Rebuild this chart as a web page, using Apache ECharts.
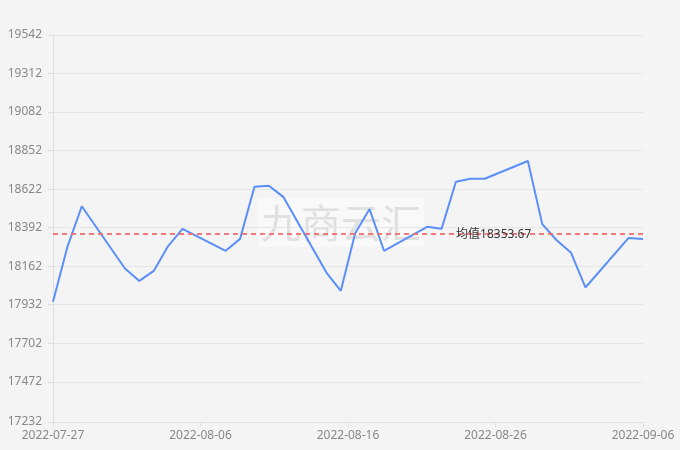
<!DOCTYPE html>
<html><head><meta charset="utf-8">
<script src="https://cdn.jsdelivr.net/npm/echarts@6/dist/echarts.min.js"></script>
<style>html,body{margin:0;padding:0;background:#f4f4f4}#c{width:680px;height:450px}</style>
</head><body><div id="c"></div>
<script>
const dates = ['2022-07-27','2022-07-28','2022-07-29','2022-08-01','2022-08-02','2022-08-03','2022-08-04','2022-08-05',
  '2022-08-08','2022-08-09','2022-08-10','2022-08-11','2022-08-12','2022-08-15','2022-08-16','2022-08-17','2022-08-18','2022-08-19',
  '2022-08-22','2022-08-23','2022-08-24','2022-08-25','2022-08-26','2022-08-29','2022-08-30','2022-08-31','2022-09-01','2022-09-02',
  '2022-09-05','2022-09-06'];
const prices = [17950,18277,18520,18148,18074,18134,18282,18385,
  18254,18325,18636,18642,18576,18124,18015,18359,18503,18254,
  18397,18385,18666,18684,18684,18790,18413,18317,18242,18035,
  18331,18325];
const yTickValues = [17232,17472,17702,17932,18162,18392,18622,18852,19082,19312,19542];
const xStart = '2022-07-27';
const xEnd = '2022-09-06';
const xSplits = 4;
const averageValue = 18353.67;
const averageName = '均值';
const averageLabelAt = '2022-08-26T15:00:00Z';
const watermarkText = '九商云汇';

const ts = d => Date.parse(d.length === 10 ? d + 'T00:00:00Z' : d);
const pad = n => (n < 10 ? '0' : '') + n;
const fmt = v => { const d = new Date(v); return d.getUTCFullYear() + '-' + pad(d.getUTCMonth() + 1) + '-' + pad(d.getUTCDate()); };
const xMin = ts(xStart), xMax = ts(xEnd);

const chart = echarts.init(document.getElementById('c'), null, {renderer: 'canvas'});
const font = '"Noto Sans", "Noto Sans CJK SC", sans-serif';
chart.setOption({
  backgroundColor: '#f4f4f4',
  animation: false,
  textStyle: {fontFamily: font},
  grid: {left: 53, right: 37, top: 35, bottom: 28},
  xAxis: {
    type: 'value', min: xMin, max: xMax, interval: (xMax - xMin) / xSplits,
    axisLine: {show: true, lineStyle: {color: '#e0e0e0'}},
    axisTick: {show: true, length: 5, lineStyle: {color: '#e0e0e0'}},
    splitLine: {show: false},
    axisLabel: {color: '#888', fontSize: 12, fontFamily: font, margin: 8, formatter: v => fmt(v)}
  },
  yAxis: {
    type: 'value', min: yTickValues[0], max: yTickValues[yTickValues.length - 1],
    axisLine: {show: true, lineStyle: {color: '#e0e0e0'}},
    axisTick: {show: true, length: 5, lineStyle: {color: '#e0e0e0'}, customValues: yTickValues},
    splitLine: {show: true, lineStyle: {color: '#e6e6e6'}},
    axisLabel: {color: '#888', fontSize: 12, fontFamily: font, margin: 11, customValues: yTickValues,
      formatter: v => String(Math.round(v))}
  },
  graphic: [{
    type: 'group', left: 258, top: 198, z: 100, silent: true,
    children: [
      {type: 'rect', shape: {x: 0, y: 0, width: 166, height: 49}, style: {fill: 'rgba(255,255,255,0.45)'}},
      {type: 'text', x: 83, y: 25, style: {text: watermarkText, font: '40px "Noto Sans CJK SC"', fill: '#e0e0e0', align: 'center', verticalAlign: 'middle'}}
    ]
  }],
  series: [{
    type: 'line',
    data: dates.map((d, i) => [ts(d), prices[i]]),
    showSymbol: false,
    lineStyle: {color: '#5b8ff9', width: 2},
    itemStyle: {color: '#5b8ff9'},
    markLine: {
      silent: true, symbol: 'none',
      lineStyle: {color: '#f56c6c', type: [5, 4], width: 2, opacity: 0.9},
      label: {show: false},
      data: [{yAxis: averageValue}]
    },
    markPoint: {
      silent: true, symbol: 'circle', symbolSize: 0,
      label: {show: true, position: 'inside', color: '#333', fontSize: 12, fontFamily: font,
        formatter: () => averageName + averageValue.toFixed(2)},
      data: [{coord: [ts(averageLabelAt), averageValue]}]
    }
  }]
});
</script></body></html>
